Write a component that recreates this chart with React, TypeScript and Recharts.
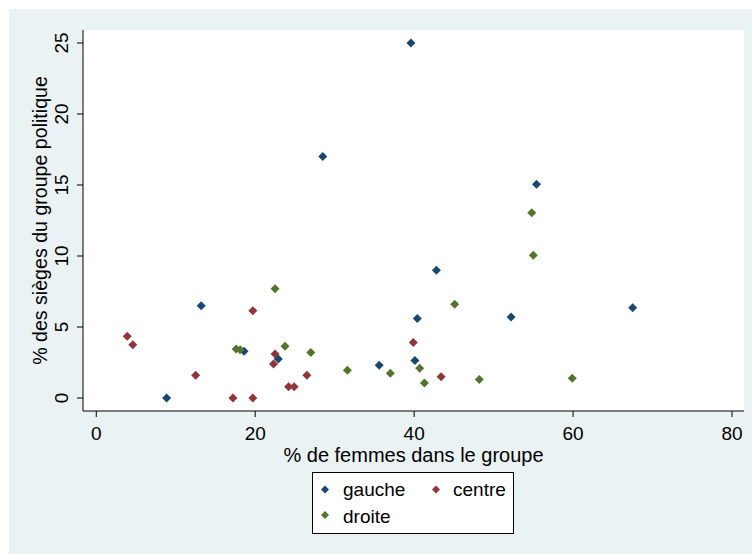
import { ScatterChart, Scatter, XAxis, YAxis, CartesianGrid, Label } from 'recharts';

const xTicks = [0, 20, 40, 60, 80];
const yTicks = [0, 5, 10, 15, 20, 25];

const gauche = [
  { x: 39.6, y: 25.0 },
  { x: 28.5, y: 17.0 },
  { x: 55.4, y: 15.05 },
  { x: 42.8, y: 9.0 },
  { x: 13.2, y: 6.5 },
  { x: 40.4, y: 5.6 },
  { x: 52.2, y: 5.7 },
  { x: 67.5, y: 6.35 },
  { x: 18.6, y: 3.3 },
  { x: 22.9, y: 2.75 },
  { x: 35.6, y: 2.3 },
  { x: 40.1, y: 2.65 },
  { x: 8.85, y: 0.0 },
];

const centre = [
  { x: 3.9, y: 4.35 },
  { x: 4.6, y: 3.75 },
  { x: 12.5, y: 1.6 },
  { x: 17.2, y: 0.0 },
  { x: 19.7, y: 0.0 },
  { x: 19.7, y: 6.15 },
  { x: 22.5, y: 3.1 },
  { x: 22.3, y: 2.4 },
  { x: 24.2, y: 0.8 },
  { x: 24.9, y: 0.8 },
  { x: 26.5, y: 1.6 },
  { x: 39.9, y: 3.9 },
  { x: 43.4, y: 1.5 },
];

const droite = [
  { x: 54.8, y: 13.05 },
  { x: 55.0, y: 10.05 },
  { x: 22.5, y: 7.7 },
  { x: 45.1, y: 6.6 },
  { x: 17.6, y: 3.45 },
  { x: 18.1, y: 3.4 },
  { x: 23.75, y: 3.65 },
  { x: 27.0, y: 3.2 },
  { x: 31.6, y: 1.95 },
  { x: 37.0, y: 1.75 },
  { x: 40.7, y: 2.1 },
  { x: 41.3, y: 1.05 },
  { x: 48.2, y: 1.3 },
  { x: 59.9, y: 1.4 },
];

const series = [
  { name: 'gauche', data: gauche, color: '#1a476f' },
  { name: 'centre', data: centre, color: '#90353b' },
  { name: 'droite', data: droite, color: '#55752f' },
];

const FONT = '"Liberation Sans", Arial, sans-serif';
const FS = 19;

const diamondPath = (cx: number, cy: number, r: number) =>
  `M${cx},${cy - r}L${cx + r},${cy}L${cx},${cy + r}L${cx - r},${cy}Z`;

function Diamond(props: any) {
  const { cx, cy, fill } = props;
  return <path d={diamondPath(cx, cy, 4.5)} fill={fill} />;
}

function YTick({ x, y, payload }: any) {
  const tx = x - 14;
  return (
    <text
      x={tx}
      y={y}
      dy="0.35em"
      transform={`rotate(-90, ${tx}, ${y})`}
      textAnchor="middle"
      fill="#000"
      fontSize={FS}
      fontFamily={FONT}
    >
      {payload.value}
    </text>
  );
}

// legend entries laid out like the Stata box: two columns, two rows
const legendPos = [
  { mx: 12, my: 16.5, tx: 30, ty: 22.5 },
  { mx: 123, my: 16.5, tx: 140, ty: 22.5 },
  { mx: 12, my: 42, tx: 30, ty: 49.5 },
];

export default function App() {
  return (
    <div style={{ position: 'absolute', left: 0, top: 0, width: 752, height: 554, background: '#fff' }}>
      <div style={{ position: 'absolute', left: 9, top: 9, width: 743, height: 545, background: '#eaf2f3' }}>
        <ScatterChart width={743} height={545} margin={{ top: 21, right: 8, left: 0, bottom: 0 }}>
          <rect x={74} y={21} width={661} height={381} fill="#fff" />
          <CartesianGrid vertical={false} stroke="#eaf2f3" strokeWidth={1.5} />
          <XAxis
            type="number"
            dataKey="x"
            domain={[-1.67, 81.51]}
            ticks={xTicks}
            allowDataOverflow
            height={143}
            tickSize={6}
            tickMargin={10}
            axisLine={{ stroke: '#000' }}
            tickLine={{ stroke: '#000' }}
            tick={{ fill: '#000', fontSize: FS, fontFamily: FONT }}
          >
            <Label
              content={({ viewBox }: any) => (
                <text
                  x={viewBox.x + viewBox.width / 2}
                  y={viewBox.y + 51}
                  textAnchor="middle"
                  fill="#000"
                  fontSize={20}
                  fontFamily={FONT}
                >
                  % de femmes dans le groupe
                </text>
              )}
            />
          </XAxis>
          <YAxis
            type="number"
            dataKey="y"
            domain={[-0.915, 25.915]}
            ticks={yTicks}
            allowDataOverflow
            width={74}
            tickSize={6}
            tickMargin={2}
            axisLine={{ stroke: '#000' }}
            tickLine={{ stroke: '#000' }}
            tick={<YTick />}
          >
            <Label
              content={({ viewBox }: any) => {
                const cx = viewBox.x + 37.5;
                const cy = viewBox.y + viewBox.height / 2;
                return (
                  <text
                    x={cx}
                    y={cy}
                    transform={`rotate(-90, ${cx}, ${cy})`}
                    textAnchor="middle"
                    fill="#000"
                    fontSize={19.6}
                    fontFamily={FONT}
                  >
                    % des sièges du groupe politique
                  </text>
                );
              }}
            />
          </YAxis>
          {series.map((s) => (
            <Scatter
              key={s.name}
              name={s.name}
              data={s.data}
              fill={s.color}
              shape={<Diamond />}
              isAnimationActive={false}
            />
          ))}
        </ScatterChart>
      </div>
      <div
        style={{
          position: 'absolute',
          left: 312,
          top: 472,
          width: 202,
          height: 62,
          boxSizing: 'border-box',
          border: '1px solid #000',
          background: '#fff',
        }}
      >
        <svg width={200} height={60} style={{ display: 'block' }}>
          {series.map((s, i) => (
            <g key={s.name}>
              <path d={diamondPath(legendPos[i].mx, legendPos[i].my, 4)} fill={s.color} />
              <text x={legendPos[i].tx} y={legendPos[i].ty} fill="#000" fontSize={FS} fontFamily={FONT}>
                {s.name}
              </text>
            </g>
          ))}
        </svg>
      </div>
    </div>
  );
}
